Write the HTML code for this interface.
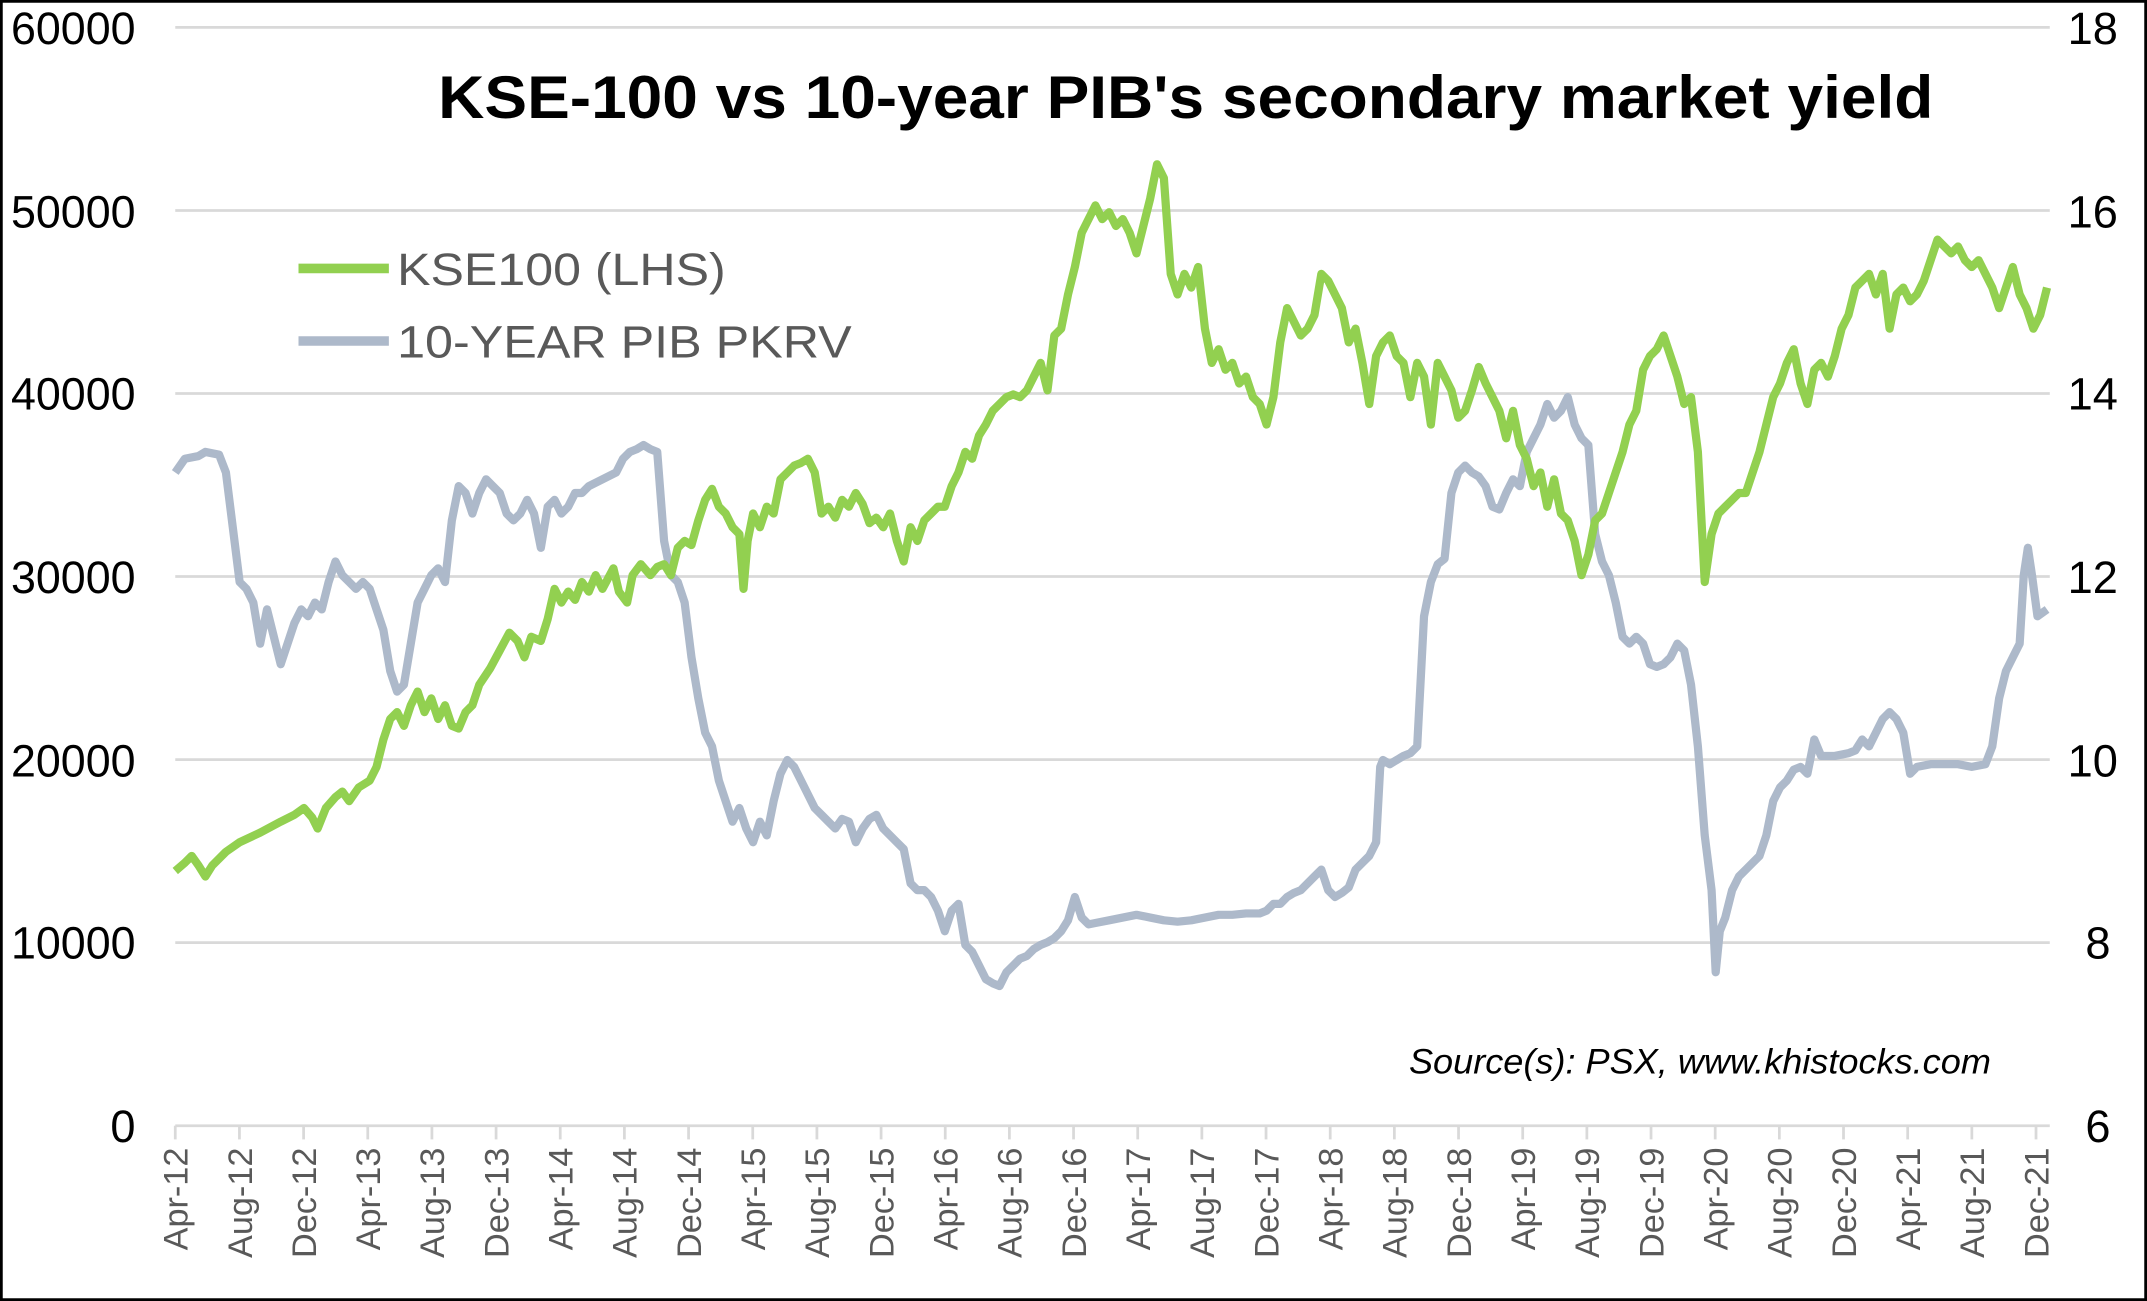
<!DOCTYPE html>
<html><head><style>
html,body{margin:0;padding:0;background:#fff}
svg{display:block}
text{font-family:"Liberation Sans",Arial,sans-serif}
</style></head><body>
<svg width="2147" height="1301" viewBox="0 0 1568 950" preserveAspectRatio="none">
<rect x="1" y="1" width="1566" height="948" fill="#fff" stroke="#000" stroke-width="2"/>
<g stroke="#d9d9d9" stroke-width="2">
<line x1="128" y1="20" x2="1497" y2="20"/><line x1="128" y1="153.7" x2="1497" y2="153.7"/>
<line x1="128" y1="287.3" x2="1497" y2="287.3"/><line x1="128" y1="421" x2="1497" y2="421"/>
<line x1="128" y1="554.7" x2="1497" y2="554.7"/><line x1="128" y1="688.3" x2="1497" y2="688.3"/>
<line x1="128" y1="822" x2="1497" y2="822"/>
</g>
<g stroke="#d9d9d9" stroke-width="2" id="ticks"></g>
<g font-size="33" fill="#000" text-anchor="end">
<text x="99" y="32" textLength="91" lengthAdjust="spacingAndGlyphs">60000</text><text x="99" y="166" textLength="91" lengthAdjust="spacingAndGlyphs">50000</text><text x="99" y="299" textLength="91" lengthAdjust="spacingAndGlyphs">40000</text><text x="99" y="433" textLength="91" lengthAdjust="spacingAndGlyphs">30000</text><text x="99" y="567" textLength="91" lengthAdjust="spacingAndGlyphs">20000</text><text x="99" y="700" textLength="91" lengthAdjust="spacingAndGlyphs">10000</text><text x="99" y="834">0</text>
</g>
<g font-size="33" fill="#000" text-anchor="start">
<text x="1510" y="32">18</text><text x="1510" y="166">16</text><text x="1510" y="299">14</text><text x="1510" y="433">12</text><text x="1510" y="567">10</text><text x="1523" y="700">8</text><text x="1523" y="834">6</text>
</g>
<g id="xl" font-size="25" fill="#595959"></g>
<text x="320" y="86" font-size="44" font-weight="bold" textLength="1092" lengthAdjust="spacingAndGlyphs">KSE-100 vs 10-year PIB's secondary market yield</text>
<line x1="218" y1="196" x2="284" y2="196" stroke="#92d050" stroke-width="7"/>
<text x="290" y="208" font-size="33" fill="#595959" textLength="240" lengthAdjust="spacingAndGlyphs">KSE100 (LHS)</text>
<line x1="218" y1="249" x2="284" y2="249" stroke="#adb9ca" stroke-width="7"/>
<text x="290" y="261" font-size="33" fill="#595959" textLength="332" lengthAdjust="spacingAndGlyphs">10-YEAR PIB PKRV</text>
<text x="1454" y="784" font-size="26" font-style="italic" text-anchor="end" textLength="425" lengthAdjust="spacingAndGlyphs">Source(s): PSX, www.khistocks.com</text>
<polyline fill="none" stroke="#adb9ca" stroke-width="6" stroke-linejoin="round" points="128,345 135,335 145,333 150,330 160,332 165,345 170,385 175,425 180,430 185,440 190,470 195,445 200,465 205,485 210,470 215,455 220,445 225,450 230,440 235,445 240,425 245,410 250,420 255,425 260,430 265,425 270,430 275,445 280,460 285,490 290,505 295,500 300,470 305,440 310,430 315,420 320,415 325,425 330,380 335,355 340,360 345,375 350,360 355,350 360,355 365,360 370,375 375,380 380,375 385,365 390,375 395,400 400,370 405,365 410,375 415,370 420,360 425,360 430,355 440,350 450,345 455,335 460,330 465,328 470,325 475,328 480,330 485,395 490,420 495,425 500,440 505,480 510,510 515,535 520,545 525,570 530,585 535,600 540,590 545,605 550,615 555,600 560,610 565,585 570,565 575,555 580,560 585,570 590,580 595,590 600,595 605,600 610,605 615,598 620,600 625,615 630,605 635,598 640,595 645,605 650,610 655,615 660,620 665,645 670,650 675,650 680,655 685,665 690,680 695,665 700,660 705,690 710,695 715,705 720,715 725,718 730,720 735,710 740,705 745,700 750,698 755,693 760,690 765,688 770,685 775,680 780,672 785,655 790,670 795,675 800,674 810,672 820,670 830,668 840,670 850,672 860,673 870,672 880,670 890,668 900,668 910,667 920,667 925,665 930,660 935,660 940,655 945,652 950,650 955,645 960,640 965,635 970,650 975,655 980,652 985,648 990,635 995,630 1000,625 1005,615 1008,560 1010,555 1015,558 1020,555 1025,552 1030,550 1035,545 1040,450 1045,425 1050,412 1055,408 1060,360 1065,345 1070,340 1075,345 1080,348 1085,355 1090,370 1095,372 1100,360 1105,350 1110,355 1115,330 1120,320 1125,310 1130,295 1135,305 1140,300 1145,290 1150,310 1155,320 1160,325 1165,390 1170,410 1175,420 1180,440 1185,465 1190,470 1195,465 1200,470 1205,485 1210,487 1215,485 1220,480 1225,470 1230,475 1235,500 1240,545 1245,610 1250,650 1253,710 1256,680 1260,670 1265,650 1270,640 1275,635 1280,630 1285,625 1290,610 1295,585 1300,575 1305,570 1310,562 1315,560 1320,565 1325,540 1330,552 1340,552 1350,550 1355,548 1360,540 1365,545 1370,535 1375,525 1380,520 1385,525 1390,535 1395,565 1400,560 1410,558 1420,558 1430,558 1440,560 1450,558 1455,545 1460,510 1465,490 1470,480 1475,470 1478,420 1481,400 1484,420 1488,450 1495,445"/>
<polyline fill="none" stroke="#92d050" stroke-width="6" stroke-linejoin="round" points="128,636 135,630 140,625 145,632 150,640 155,632 165,622 175,615 190,608 205,600 215,595 222,590 228,597 232,605 238,590 245,582 250,578 255,585 262,575 270,570 275,560 280,540 285,525 290,520 295,530 300,515 305,505 310,520 315,510 320,525 325,515 330,530 335,532 340,520 345,515 350,500 358,488 365,475 372,462 378,468 383,480 388,465 395,468 400,452 405,430 410,440 415,432 420,438 425,425 430,432 435,420 440,430 448,415 452,432 458,440 462,420 468,412 475,420 480,414 485,412 490,420 495,400 500,395 505,398 510,380 515,365 520,357 525,370 530,375 535,385 540,390 543,430 546,395 550,375 555,385 560,370 565,375 570,350 575,345 580,340 585,338 590,335 595,345 600,375 605,370 610,378 615,365 620,370 625,360 630,368 635,382 640,378 645,385 650,375 655,395 660,410 665,385 670,395 675,380 680,375 685,370 690,370 695,355 700,345 705,330 710,335 715,318 720,310 725,300 730,295 735,290 740,288 745,290 750,285 755,275 760,265 765,285 770,245 775,240 780,215 785,195 790,170 795,160 800,150 805,160 810,155 815,165 820,160 825,170 830,185 835,165 840,145 845,120 850,130 855,200 860,215 865,200 870,210 875,195 880,240 885,265 890,255 895,270 900,265 905,280 910,275 915,290 920,295 925,310 930,290 935,250 940,225 945,235 950,245 955,240 960,230 965,200 970,205 975,215 980,225 985,250 990,240 995,265 1000,295 1005,260 1010,250 1015,245 1020,260 1025,265 1030,290 1035,265 1040,275 1045,310 1050,265 1055,275 1060,285 1065,305 1070,300 1075,285 1080,268 1085,280 1090,290 1095,300 1100,320 1105,300 1110,325 1115,335 1120,355 1125,345 1130,370 1135,350 1140,375 1145,380 1150,395 1155,420 1160,405 1165,380 1170,375 1175,360 1180,345 1185,330 1190,310 1195,300 1200,270 1205,260 1210,255 1215,245 1220,260 1225,275 1230,295 1235,290 1240,330 1245,425 1250,390 1255,375 1260,370 1265,365 1270,360 1275,360 1280,345 1285,330 1290,310 1295,290 1300,280 1305,265 1310,255 1315,280 1320,295 1325,270 1330,265 1335,275 1340,260 1345,240 1350,230 1355,210 1360,205 1365,200 1370,215 1375,200 1380,240 1385,215 1390,210 1395,220 1400,215 1405,205 1410,190 1415,175 1420,180 1425,185 1430,180 1435,190 1440,195 1445,190 1450,200 1455,210 1460,225 1465,210 1470,195 1475,215 1480,225 1485,240 1490,230 1495,210"/>
</svg>
<script>
var ns="http://www.w3.org/2000/svg";
var m=["Apr-","Aug-","Dec-"],t=document.getElementById("ticks"),xl=document.getElementById("xl");
for(var i=0;i<30;i++){
 var x=128+i*46.86;
 var l=document.createElementNS(ns,"line");
 l.setAttribute("x1",x);l.setAttribute("x2",x);l.setAttribute("y1",822);l.setAttribute("y2",832);t.appendChild(l);
 var yr=12+Math.floor(i/3);
 var s=document.createElementNS(ns,"text");
 s.setAttribute("transform","translate("+(x+9)+",838) rotate(-90)");
 s.setAttribute("text-anchor","end");
 s.textContent=m[i%3]+yr;xl.appendChild(s);
}
</script>
</body></html>
